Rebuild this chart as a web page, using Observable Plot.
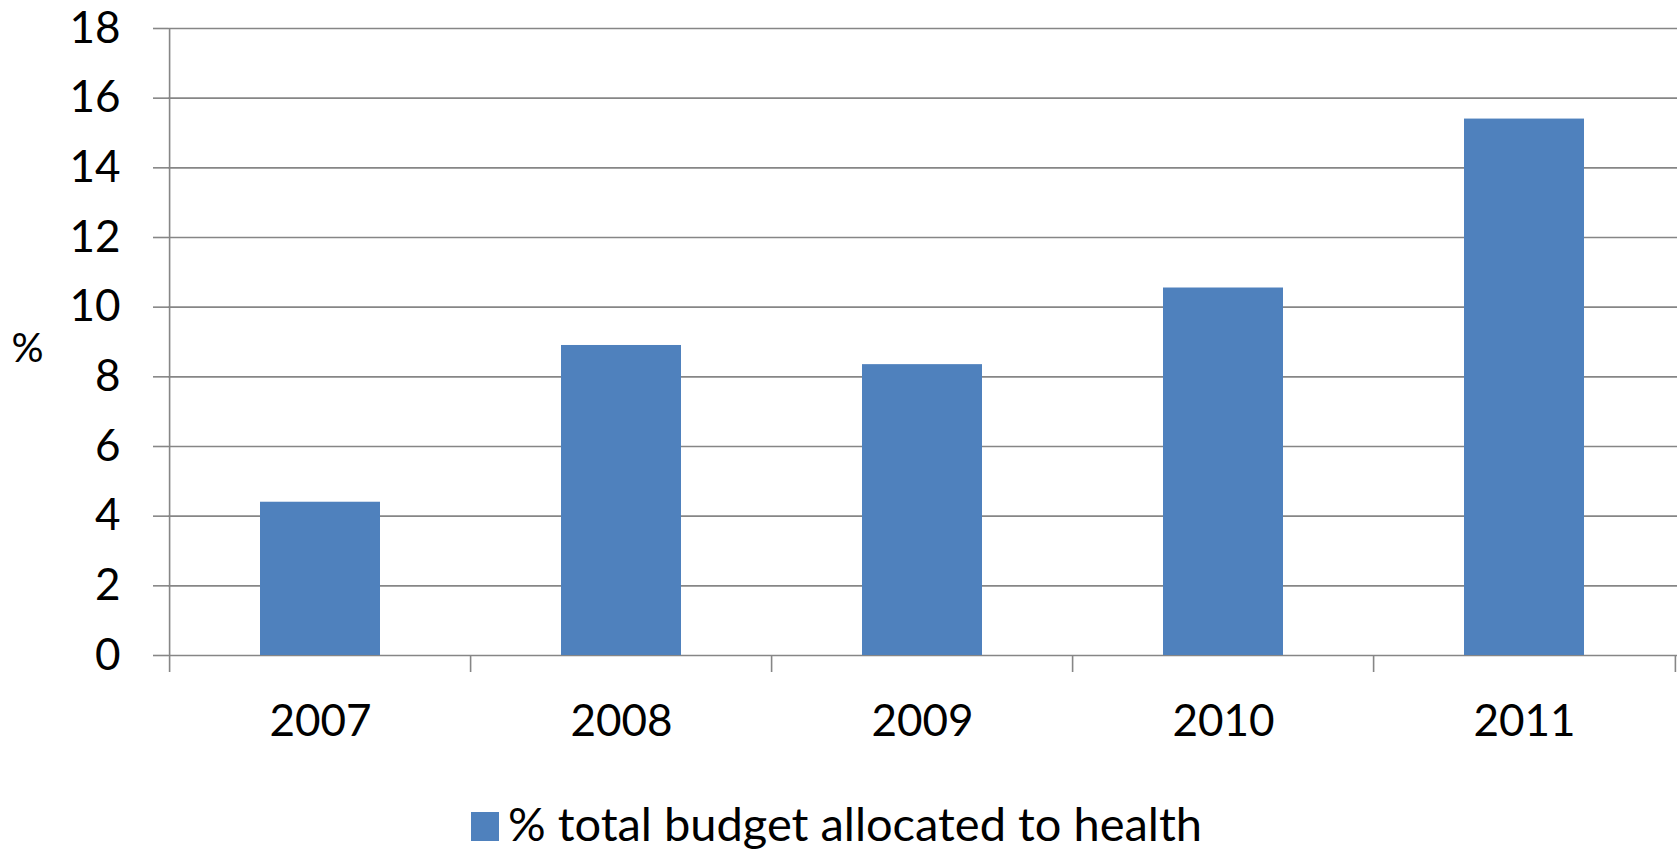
<!DOCTYPE html>
<html><head><meta charset="utf-8">
<script src="https://cdn.jsdelivr.net/npm/d3@7"></script>
<script src="https://cdn.jsdelivr.net/npm/@observablehq/plot@0.6"></script>
<style>
html,body{margin:0;padding:0;background:#fff;}
#chart{width:1680px;}
#legend{position:relative;height:59px;width:1680px;font-family:Lato,sans-serif;font-size:47px;color:#000;}
#legend .sw{position:absolute;left:471px;top:22px;width:28px;height:29px;}
#legend .lbl{position:absolute;left:508px;top:8px;line-height:50px;white-space:nowrap;}
</style></head><body>
<div id="chart"></div>
<div id="legend"><span class="sw"></span><span class="lbl"></span></div>
<script>
const years = ["2007", "2008", "2009", "2010", "2011"];
const shares = [4.4, 8.9, 8.35, 10.55, 15.4];
const yTicks = [0, 2, 4, 6, 8, 10, 12, 14, 16, 18];
const seriesLabel = "% total budget allocated to health";
const yLabel = "%";
const barColor = "#4F81BD";
const gridColor = "#868686";

const data = years.map((year, i) => ({year, value: shares[i]}));
const W = 1680, H = 790, ml = 168, mr = 3, mt = 28, mb = 135;
const step = (W - ml - mr) / years.length;

const chart = Plot.plot({
  width: W, height: H,
  marginLeft: ml, marginRight: mr, marginTop: mt, marginBottom: mb,
  style: {fontFamily: "Lato, sans-serif", fontSize: "44px", color: "#000", background: "#fff"},
  x: {domain: years, paddingInner: 0.6, paddingOuter: 0.3, label: null},
  y: {domain: [0, 18], ticks: yTicks, label: null},
  marks: [
    Plot.gridY(yTicks, {stroke: gridColor, strokeOpacity: 1, strokeWidth: 1.6}),
    Plot.axisY(yTicks, {tickSize: 15, tickPadding: 33, stroke: gridColor, strokeWidth: 1.6, label: null, fill: "#000", fontSize: 44}),
    Plot.axisX(years, {tickSize: 0, tickPadding: 49, label: null, fill: "#000", fontSize: 44}),
    Plot.barY(data, {x: "year", y: "value", fill: barColor}),
    // y axis line (left edge of first category), extended down as a tick
    Plot.ruleX([years[0]], {x: d => d, dx: -step / 2, y1: 18, y2: 0, insetBottom: -17, stroke: gridColor, strokeWidth: 1.6}),
    // category boundary ticks
    Plot.ruleX(years.slice(1), {x: d => d, dx: -step / 2, y1: 0, y2: 0, insetBottom: -17, stroke: gridColor, strokeWidth: 1.6}),
    Plot.ruleX([years[years.length - 1]], {x: d => d, dx: step / 2, y1: 0, y2: 0, insetBottom: -17, stroke: gridColor, strokeWidth: 1.6}),
    Plot.text([yLabel], {frameAnchor: "left", text: d => d, dx: -141, dy: 7, textAnchor: "middle", fill: "#000", fontSize: 40})
  ]
});
document.getElementById("chart").appendChild(chart);
document.querySelector("#legend .sw").style.background = barColor;
document.querySelector("#legend .lbl").textContent = seriesLabel;
</script>
</body></html>
